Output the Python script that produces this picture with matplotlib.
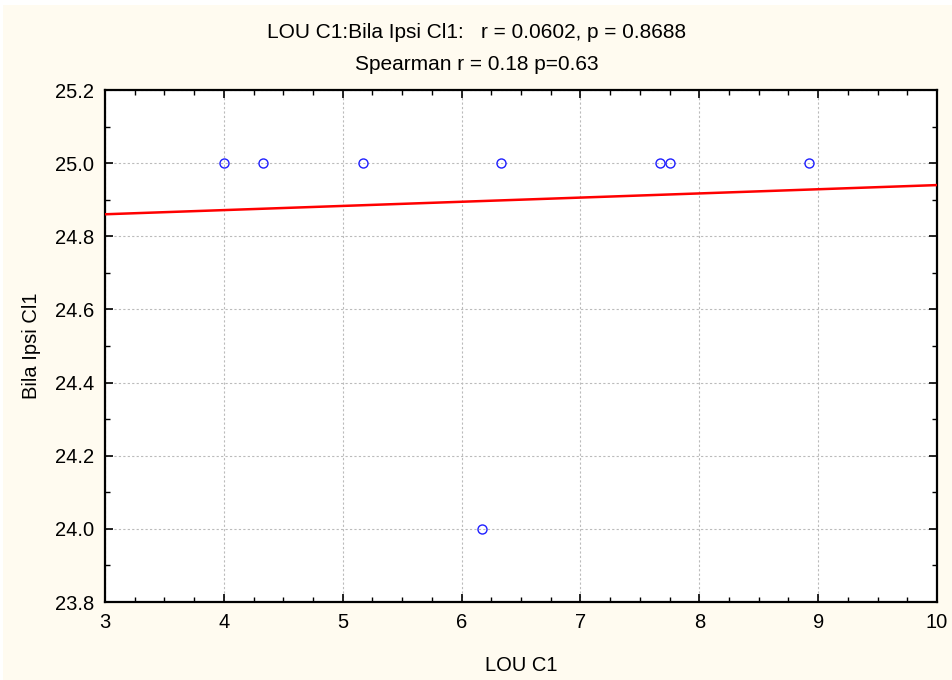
import matplotlib
matplotlib.use("Agg")
import matplotlib.pyplot as plt
from matplotlib.ticker import MultipleLocator, FormatStrFormatter
from matplotlib.patches import Rectangle
import numpy as np
from matplotlib import font_manager

names = {f.name for f in font_manager.fontManager.ttflist}
fam = ['Liberation Sans Narrow', 'Liberation Sans', 'DejaVu Sans']
fam = [f for f in fam if f in names] or ['DejaVu Sans']
plt.rcParams['font.family'] = fam

# Data
lou_c1 = [4.0, 4.33, 5.17, 6.33, 7.67, 7.75, 8.92, 6.17]
bila_ipsi = [25.0, 25.0, 25.0, 25.0, 25.0, 25.0, 25.0, 24.0]
fit_intercept = 24.826
fit_slope = 0.0114
title_lines = ["LOU C1:Bila Ipsi Cl1:   r = 0.0602, p = 0.8688",
               "Spearman r = 0.18 p=0.63"]

FS = 14.5
W, H = 953, 680
fig = plt.figure(figsize=(W / 100, H / 100), dpi=100)
fig.patch.set_facecolor('white')
bg = Rectangle((3 / W, 0), 1, 1 - 5 / H, transform=fig.transFigure,
               facecolor='#FFFBF0', edgecolor='none', zorder=-10)
fig.add_artist(bg)
ax = fig.add_axes([105 / W, 78 / H, 832 / W, 512 / H])
ax.set_facecolor('white')

xs = np.array([3, 10])
ax.plot(xs, fit_intercept + fit_slope * xs, color='#FF0000', lw=1.8, zorder=3)
ax.plot(lou_c1, bila_ipsi, 'o', mfc='none', mec='#1E1EFF', mew=1.0, ms=6.5,
        zorder=4, clip_on=False)

ax.set_xlim(3, 10)
ax.set_ylim(23.8, 25.2)
ax.xaxis.set_major_locator(MultipleLocator(1))
ax.xaxis.set_minor_locator(MultipleLocator(0.25))
ax.yaxis.set_major_locator(MultipleLocator(0.2))
ax.yaxis.set_minor_locator(MultipleLocator(0.1))
ax.yaxis.set_major_formatter(FormatStrFormatter('%.1f'))
ax.grid(True, which='major', color='#BBBBBB', ls=(0, (2, 2)), lw=0.8)
ax.tick_params(which='both', direction='in', top=True, right=True,
               labelsize=FS, colors='black')
ax.tick_params(which='major', length=6, width=1.2, pad=8)
ax.tick_params(which='minor', length=3.5, width=1.0)
for s in ax.spines.values():
    s.set_linewidth(1.6)
    s.set_color('black')

ax.set_xlabel("LOU C1", fontsize=FS, labelpad=17)
ax.set_ylabel("Bila Ipsi Cl1", fontsize=FS, labelpad=10)

fig.text(0.5, 1 - 33 / H, title_lines[0], ha='center', va='center', fontsize=15)
fig.text(0.5, 1 - 65 / H, title_lines[1], ha='center', va='center', fontsize=15)

fig.savefig("out.png", dpi=100, facecolor=fig.get_facecolor())
